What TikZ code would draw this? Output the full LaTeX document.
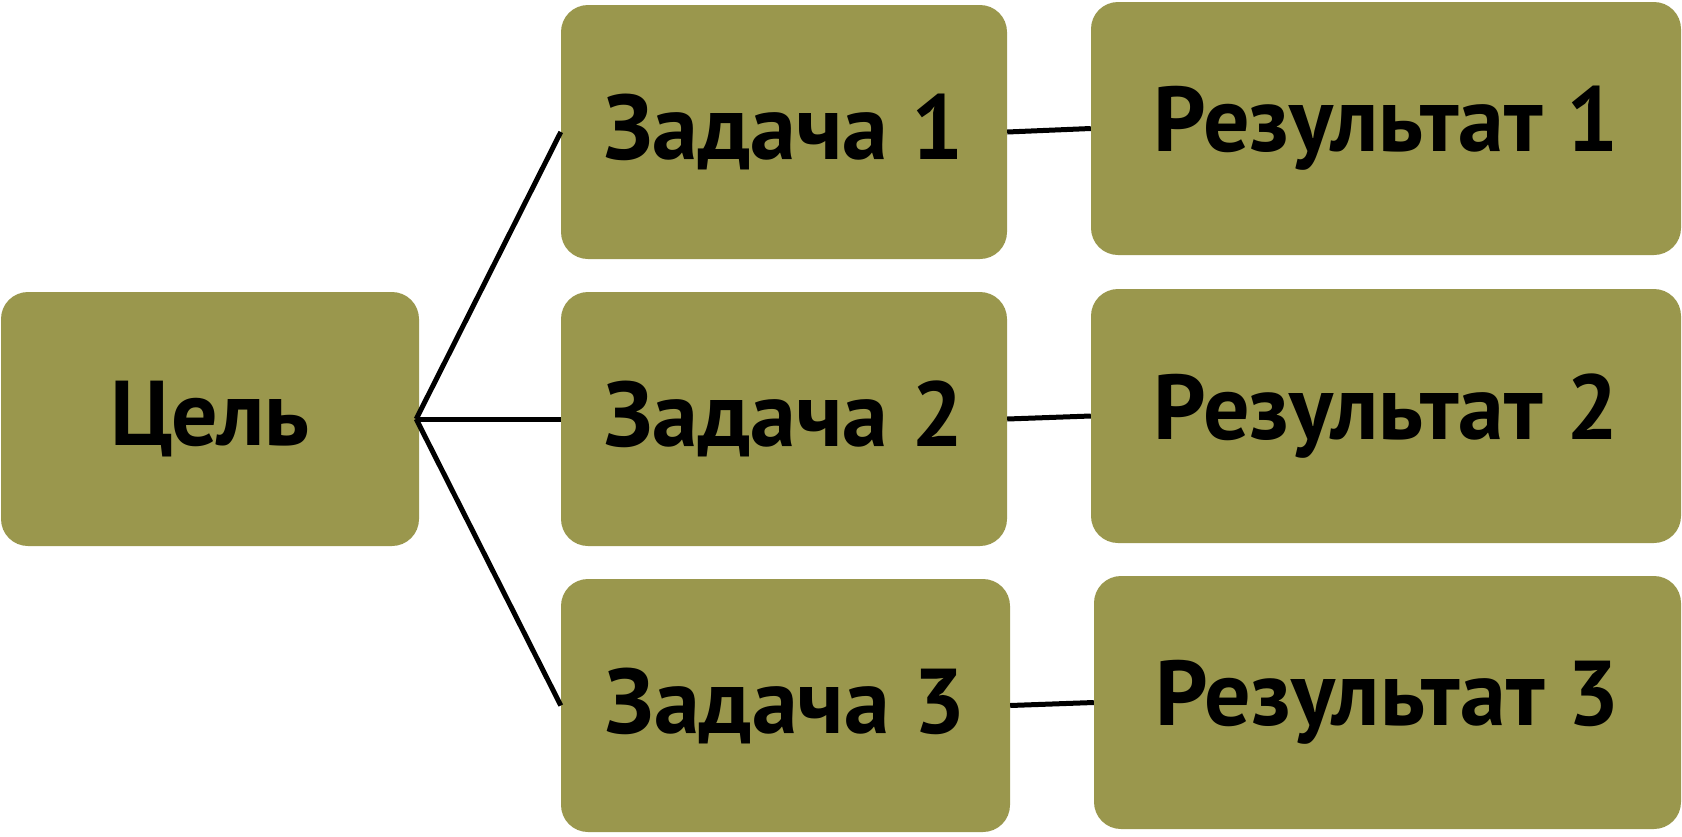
\documentclass[tikz,border=0pt]{standalone}
\usepackage{fontspec}
\setmainfont{PT Sans}
\definecolor{boxolive}{HTML}{9A974D}
\begin{document}
\begin{tikzpicture}[x=1pt,y=-1pt,
  box/.style={draw=none,fill=boxolive,rounded corners=27pt,inner sep=0pt,
    font=\bfseries\fontsize{92}{110}\selectfont,text=black,anchor=center},
  link/.style={line width=5pt,black}]
\useasboundingbox (0,0) rectangle (1682,836);
\node[box,minimum width=418pt,minimum height=254pt] (c) at (210,419) {Цель};
\node[box,minimum width=446pt,minimum height=254pt] (z1) at (784,132) {Задача 1};
\node[box,minimum width=446pt,minimum height=254pt] (z2) at (784,419) {Задача 2};
\node[box,minimum width=449pt,minimum height=253pt] (z3) at (785.5,705.5) {Задача 3};
\node[box,minimum width=590pt,minimum height=253pt] (r1) at (1386,128.5) {Результат 1};
\node[box,minimum width=590pt,minimum height=254pt] (r2) at (1386,416) {Результат 2};
\node[box,minimum width=587pt,minimum height=253pt] (r3) at (1387.5,702.5) {Результат 3};
\draw[link] ([xshift=-3pt]c.east) -- (z1.west);
\draw[link] ([xshift=-3pt]c.east) -- (z2.west);
\draw[link] ([xshift=-3pt]c.east) -- (z3.west);
\draw[link] (z1.east) -- (r1.west);
\draw[link] (z2.east) -- (r2.west);
\draw[link] (z3.east) -- (r3.west);
\end{tikzpicture}
\end{document}
